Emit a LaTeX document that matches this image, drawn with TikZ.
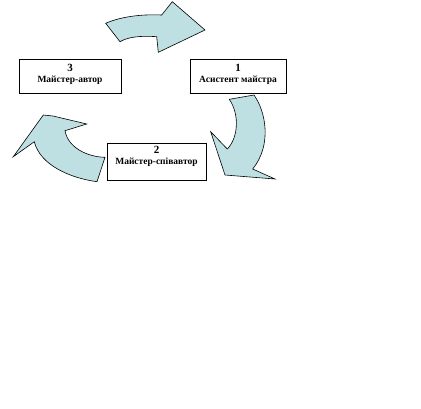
\documentclass[tikz,border=0pt]{standalone}
\usepackage{fontspec}
\setmainfont{Liberation Serif}
\usepackage{xcolor}
\usetikzlibrary{positioning}
\definecolor{arrowfill}{RGB}{190,224,226}

\begin{document}
\begin{tikzpicture}[x=1pt, y=-1pt,
  stg/.style={draw, fill=white, line width=0.8pt, align=center, inner sep=1pt,
    font=\fontsize{9.5}{10.5}\selectfont\bfseries},
  arr/.style={draw, fill=arrowfill, line width=0.6pt, line join=miter}]
  \useasboundingbox (0,0) rectangle (421,408);

  % curved block arrows, drawn first so the boxes sit on top
  \path[arr] (105.7,23.3) .. controls (120,17) and (140,14) .. (161.7,15)
    -- (172.3,1.7) -- (205,30) -- (158.3,52.3) -- (156.7,36.7)
    .. controls (140,35.5) and (128,37) .. (120,41.7) -- cycle;
  \path[arr] (229.3,99.3) -- (254,95) .. controls (266,112) and (272,145) .. (252.7,169)
    -- (275,179) -- (225,175) -- (210.7,131.7) -- (227.3,149)
    .. controls (238,138) and (240,115) .. cycle;
  \path[arr] (13.3,156.7) -- (43.3,115) -- (53,116) -- (86.7,124) -- (65,130.7)
    .. controls (68,148) and (88,157) .. (105,157.3) -- (97,181.7)
    .. controls (70,178) and (40,165) .. (34.3,141.7) -- cycle;

  % the three roles
  \node[stg, minimum width=102, minimum height=34, text depth=5pt] (author) at (70,76)
    {{\fontsize{11}{10.5}\selectfont 3}\\Майстер-автор};
  \node[stg, minimum width=96, minimum height=34, text depth=5pt] (assist) at (238,76)
    {{\fontsize{11}{10.5}\selectfont 1}\\Асистент майстра};
  \node[stg, minimum width=99, minimum height=37, text depth=12pt] (coauth) at (156.5,161.5)
    {{\fontsize{11}{10.5}\selectfont 2}\\Майстер-співавтор};
\end{tikzpicture}
\end{document}
